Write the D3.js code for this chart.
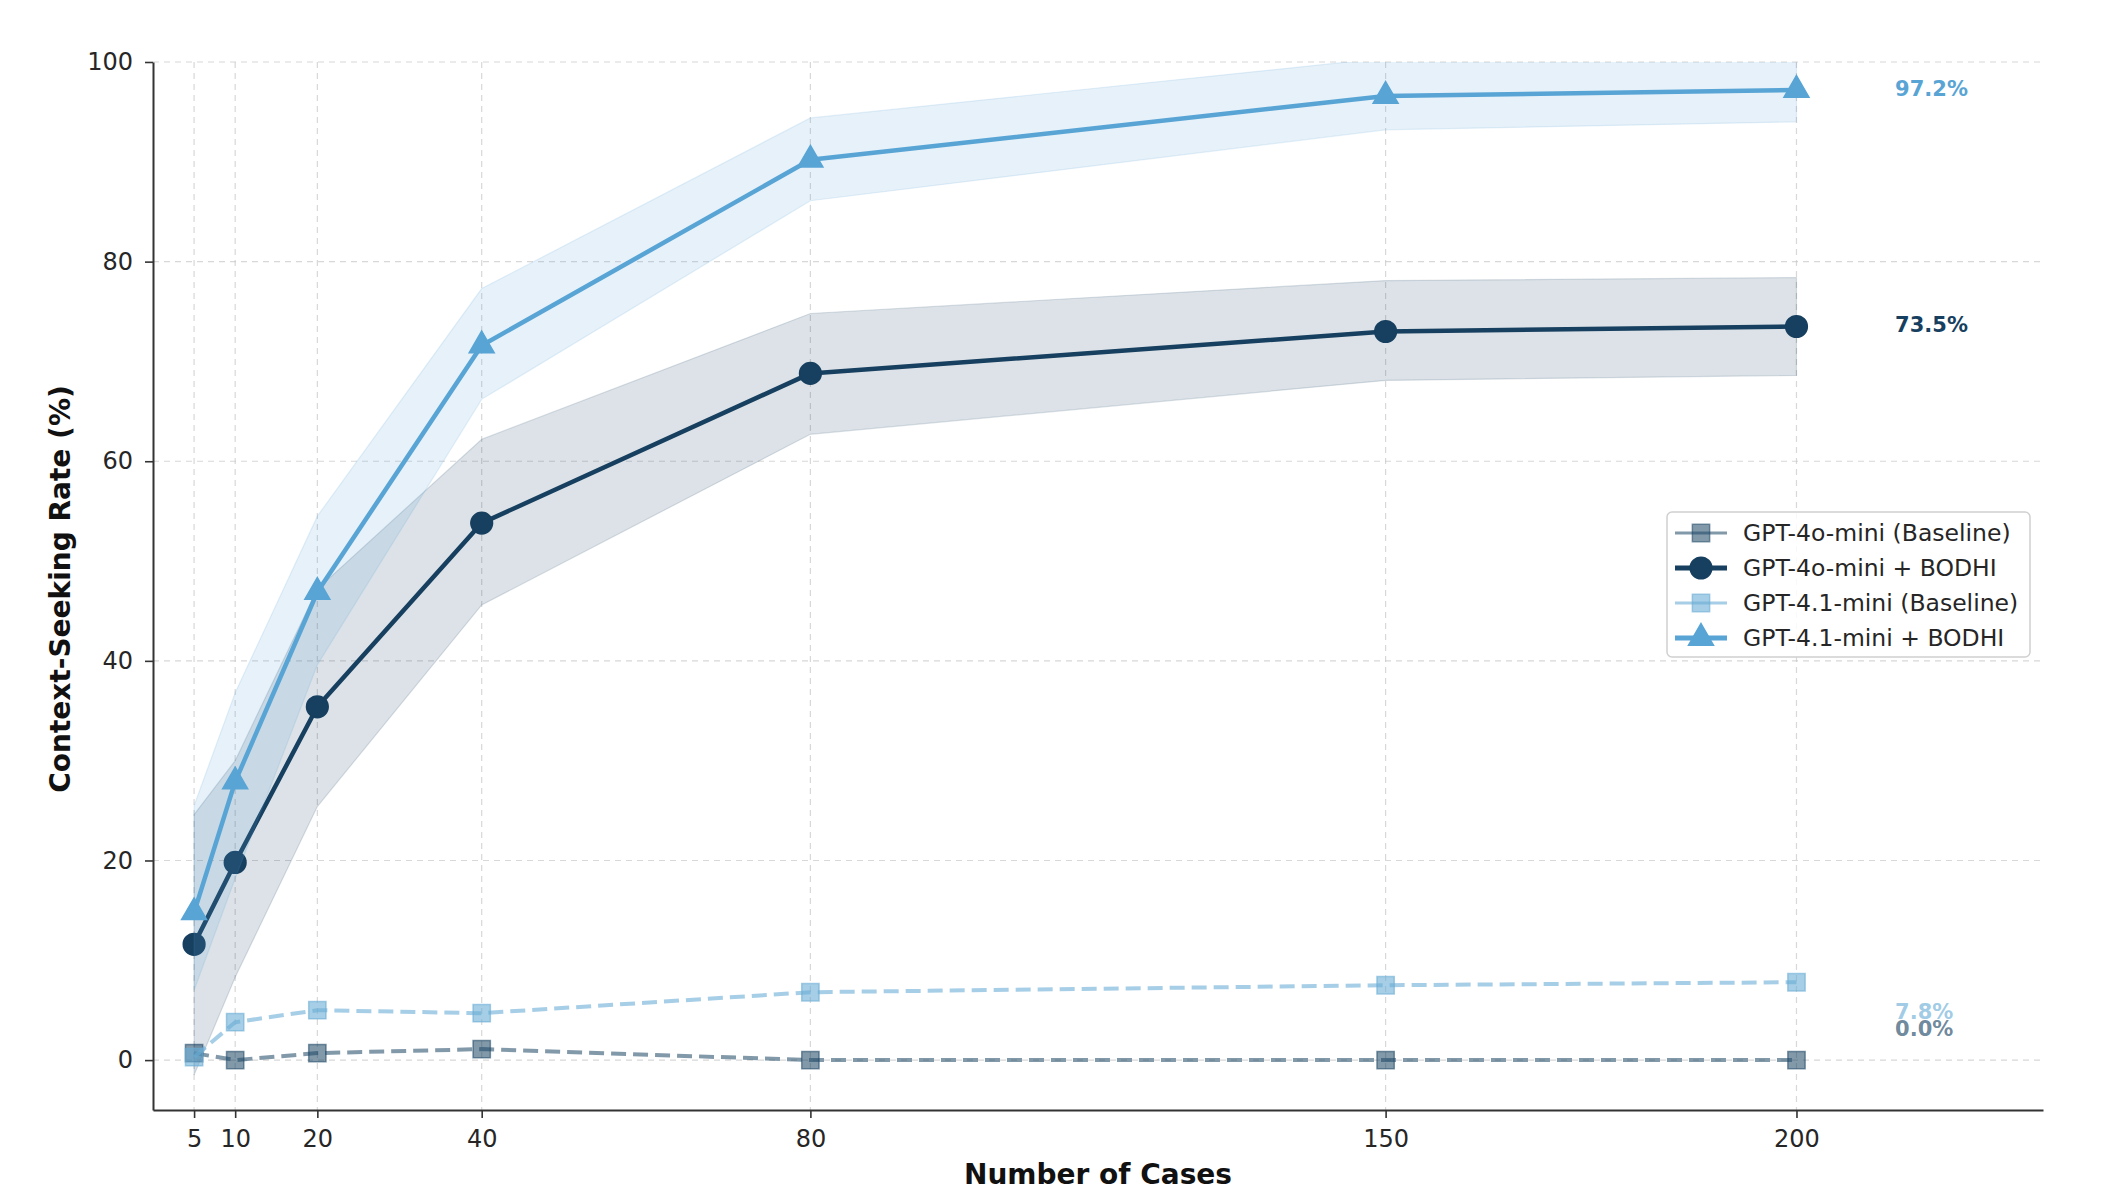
<!DOCTYPE html>
<html>
<head>
<meta charset="utf-8">
<script src="https://cdn.jsdelivr.net/npm/d3@7"></script>
<style>
body { margin: 0; background: #fff; }
text { font-family: "DejaVu Sans", sans-serif; }
</style>
</head>
<body>
<svg id="chart"></svg>
<script>
// data
var cases = [5, 10, 20, 40, 80, 150, 200];
var yTicks = [0, 20, 40, 60, 80, 100];

var base4o = [0.7, 0.0, 0.7, 1.1, 0.0, 0.0, 0.0];
var bodhi4o = [11.6, 19.8, 35.4, 53.8, 68.8, 73.0, 73.5];
var bodhi4oLow = [-1.5, 8.3, 25.4, 45.6, 62.7, 68.1, 68.6];
var bodhi4oHigh = [24.6, 30.0, 47.2, 62.2, 74.8, 78.1, 78.4];

var base41 = [0.3, 3.8, 5.0, 4.7, 6.8, 7.5, 7.8];
var bodhi41 = [14.8, 27.9, 46.9, 71.6, 90.2, 96.6, 97.2];
var bodhi41Low = [7.0, 18.2, 39.6, 66.2, 86.1, 93.2, 94.0];
var bodhi41High = [25.5, 36.8, 54.5, 77.3, 94.4, 100.4, 100.4];

var seriesNames = ["GPT-4o-mini (Baseline)", "GPT-4o-mini + BODHI", "GPT-4.1-mini (Baseline)", "GPT-4.1-mini + BODHI"];
var endLabels = ["0.0%", "73.5%", "7.8%", "97.2%"];
var endLabelY = [3.1, 73.6, 4.8, 97.3];

var width = 2106, height = 1199;
var margin = { top: 62, right: 63, bottom: 89, left: 153 };

var svg = d3.select("#chart").attr("width", width).attr("height", height);

var x = d3.scaleLinear().domain([0, 230]).range([margin.left, width - margin.right]);
var y = d3.scaleLinear().domain([-5, 100]).range([height - margin.bottom, margin.top]);

var navy = "#173f5f", lightBlue = "#58a4d5";
var series = [
	{ name: seriesNames[0], vals: base4o, color: "#1b4565", alpha: 0.55, width: 4, dash: "15,7", marker: d3.symbolSquare, size: 300 },
	{ name: seriesNames[1], vals: bodhi4o, low: bodhi4oLow, high: bodhi4oHigh, color: navy, alpha: 1, width: 4.5, dash: null, marker: d3.symbolCircle, size: 370 },
	{ name: seriesNames[2], vals: base41, color: "#6baed6", alpha: 0.6, width: 4, dash: "15,7", marker: d3.symbolSquare, size: 300 },
	{ name: seriesNames[3], vals: bodhi41, low: bodhi41Low, high: bodhi41High, color: lightBlue, alpha: 1, width: 4.5, dash: null, marker: d3.symbolTriangle, size: 270 }
];

svg.append("defs").append("clipPath").attr("id", "plotclip")
	.append("rect")
	.attr("x", x(0)).attr("y", y(100))
	.attr("width", x(230) - x(0)).attr("height", y(-5) - y(100));

// grid
var grid = svg.append("g").attr("class", "grid");
grid.selectAll("line.gx").data(cases).enter().append("line")
	.attr("x1", function(d){ return x(d); }).attr("x2", function(d){ return x(d); })
	.attr("y1", y(100)).attr("y2", y(-5))
	.attr("stroke", "#c8c8c8").attr("stroke-width", 1.2).attr("stroke-dasharray", "6,5").attr("opacity", 0.7);
grid.selectAll("line.gy").data(yTicks).enter().append("line")
	.attr("x1", x(0)).attr("x2", x(230))
	.attr("y1", function(d){ return y(d); }).attr("y2", function(d){ return y(d); })
	.attr("stroke", "#c8c8c8").attr("stroke-width", 1.2).attr("stroke-dasharray", "6,5").attr("opacity", 0.7);

var plot = svg.append("g").attr("clip-path", "url(#plotclip)");
var line = d3.line().x(function(d, i){ return x(cases[i]); }).y(function(d){ return y(d); });

series.forEach(function(s){
	if (s.low) {
		var area = d3.area()
			.x(function(d, i){ return x(cases[i]); })
			.y0(function(d, i){ return y(s.low[i]); })
			.y1(function(d, i){ return y(s.high[i]); });
		plot.append("path").datum(s.vals).attr("d", area)
			.attr("fill", s.color).attr("fill-opacity", 0.15)
			.attr("stroke", s.color).attr("stroke-opacity", 0.15).attr("stroke-width", 1.2);
	}
	plot.append("path").datum(s.vals).attr("d", line)
		.attr("fill", "none").attr("stroke", s.color).attr("stroke-opacity", s.alpha)
		.attr("stroke-width", s.width).attr("stroke-dasharray", s.dash)
		.attr("stroke-linejoin", "round");
	plot.selectAll(null).data(s.vals).enter().append("path")
		.attr("d", d3.symbol().type(s.marker).size(s.size))
		.attr("transform", function(d, i){ return "translate(" + x(cases[i]) + "," + y(d) + ")"; })
		.attr("fill", s.color).attr("fill-opacity", s.alpha)
		.attr("stroke", s.color).attr("stroke-opacity", s.alpha).attr("stroke-width", 1.5);
});

// axes
var xAxis = d3.axisBottom(x).tickValues(cases).tickSize(8).tickSizeOuter(0).tickPadding(12);
var yAxis = d3.axisLeft(y).tickValues(yTicks).tickSize(8).tickSizeOuter(0).tickPadding(12);
var gx = svg.append("g").attr("transform", "translate(0," + y(-5) + ")").call(xAxis);
var gy = svg.append("g").attr("transform", "translate(" + x(0) + ",0)").call(yAxis);
[gx, gy].forEach(function(g){
	g.select(".domain").attr("stroke", "#333").attr("stroke-width", 2);
	g.selectAll(".tick line").attr("stroke", "#333").attr("stroke-width", 1.6);
	g.selectAll(".tick text").attr("fill", "#262626").style("font-size", "24px").style("font-family", "DejaVu Sans");
});

svg.append("text").attr("x", (x(0) + x(230)) / 2).attr("y", 1184)
	.attr("text-anchor", "middle").style("font-size", "28px").style("font-weight", "bold").attr("fill", "#111")
	.text("Number of Cases");
svg.append("text").attr("transform", "translate(70," + ((y(-5) + y(100)) / 2 + 3) + ") rotate(-90)")
	.attr("text-anchor", "middle").style("font-size", "28px").style("font-weight", "bold").attr("fill", "#111")
	.text("Context-Seeking Rate (%)");

// end labels (the two baseline labels overlap in the original too)
series.forEach(function(s, i){
	svg.append("text").attr("x", x(212)).attr("y", y(endLabelY[i]))
		.attr("dominant-baseline", "central")
		.style("font-size", "21px").style("font-weight", "bold")
		.attr("fill", s.color).attr("fill-opacity", s.alpha === 1 ? 1 : 0.65)
		.text(endLabels[i]);
});

// legend
var legend = svg.append("g").attr("transform", "translate(1667,512)");
legend.append("rect").attr("width", 363).attr("height", 145).attr("rx", 5)
	.attr("fill", "#fff").attr("fill-opacity", 0.85).attr("stroke", "#d0d0d0").attr("stroke-width", 1.5);
series.forEach(function(s, i){
	var ly = 21 + i * 35;
	legend.append("line").attr("x1", 8).attr("x2", 60).attr("y1", ly).attr("y2", ly)
		.attr("stroke", s.color).attr("stroke-opacity", s.alpha)
		.attr("stroke-width", s.dash ? 2.8 : 4.8);
	legend.append("path").attr("d", d3.symbol().type(s.marker).size(s.size))
		.attr("transform", "translate(34," + ly + ")")
		.attr("fill", s.color).attr("fill-opacity", s.alpha)
		.attr("stroke", s.color).attr("stroke-opacity", s.alpha).attr("stroke-width", 1.5);
	legend.append("text").attr("x", 76).attr("y", ly).attr("dominant-baseline", "central")
		.style("font-size", "23.5px").attr("fill", "#262626").text(s.name);
});
</script>
</body>
</html>
